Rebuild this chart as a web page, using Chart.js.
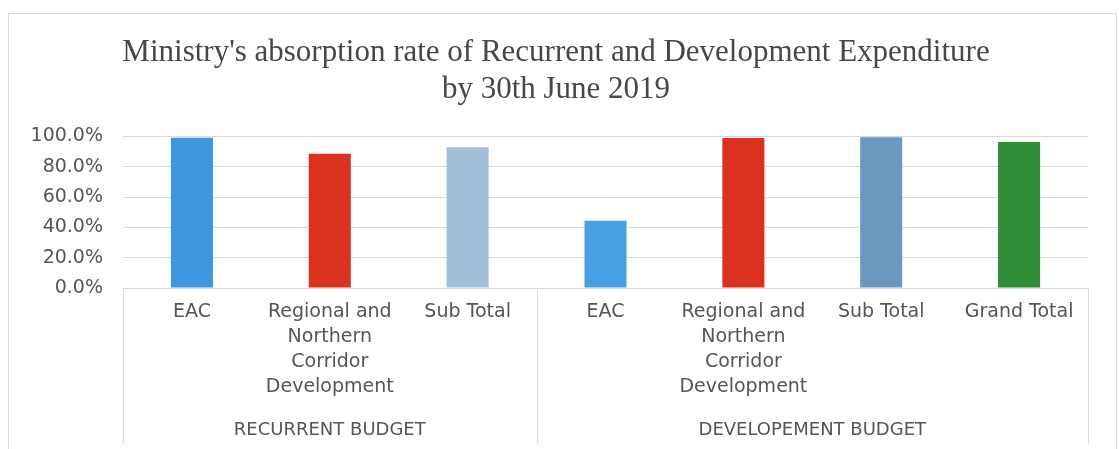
<!DOCTYPE html>
<html>
<head>
<meta charset="utf-8">
<script src="https://cdn.jsdelivr.net/npm/chart.js@4.4.1/dist/chart.umd.min.js"></script>
<style>
  html, body { margin: 0; padding: 0; background: #ffffff; }
  #wrap { width: 1119px; height: 449px; position: relative; }
</style>
</head>
<body>
<div id="wrap"><canvas id="c"></canvas></div>
<script>
// ---- data ----
const titleLines = ["Ministry's absorption rate of Recurrent and Development Expenditure", "by 30th June 2019"];
const categories = [
  ["EAC"],
  ["Regional and", "Northern", "Corridor", "Development"],
  ["Sub Total"],
  ["EAC"],
  ["Regional and", "Northern", "Corridor", "Development"],
  ["Sub Total"],
  ["Grand Total"]
];
const groups = ["RECURRENT BUDGET", "DEVELOPEMENT BUDGET"];
const groupSizes = [3, 4];
const absorptionRate = [0.991, 0.886, 0.928, 0.444, 0.989, 0.994, 0.963];
const yTicks = [0, 0.2, 0.4, 0.6, 0.8, 1.0];

// ---- styles ----
const barColors = ["#3f97dd", "#d9321f", "#a4bfd8", "#469fe0", "#db3220", "#6b98c1", "#2f8c36"];
const tickFont = { family: "'DejaVu Sans', sans-serif", size: 19 };
const groupFont = { family: "'DejaVu Sans', sans-serif", size: 18 };
const textColor = "#555555";

const multiLevel = {
  id: 'multiLevel',
  beforeDraw(chart) {
    const ctx = chart.ctx;
    ctx.save();
    ctx.fillStyle = '#ffffff';
    ctx.fillRect(0, 0, chart.width, chart.height);
    ctx.strokeStyle = '#d9d9d9';
    ctx.lineWidth = 1;
    ctx.strokeRect(8.5, 13.5, 1108, 460);
    ctx.restore();
  },
  afterDraw(chart) {
    const ctx = chart.ctx;
    const xs = chart.scales.x;
    const area = chart.chartArea;
    const bounds = [xs.left];
    let idx = 0;
    groupSizes.forEach((n) => {
      idx += n;
      if (idx < categories.length) {
        bounds.push((xs.getPixelForTick(idx - 1) + xs.getPixelForTick(idx)) / 2);
      } else {
        bounds.push(xs.right);
      }
    });
    ctx.save();
    ctx.strokeStyle = '#d9d9d9';
    ctx.lineWidth = 1;
    bounds.forEach(b => {
      const x = Math.round(b) + 0.5;
      ctx.beginPath();
      ctx.moveTo(x, area.bottom);
      ctx.lineTo(x, chart.height - 5);
      ctx.stroke();
    });
    ctx.fillStyle = textColor;
    ctx.font = `${groupFont.size}px ${groupFont.family}`;
    ctx.textAlign = 'center';
    ctx.textBaseline = 'middle';
    groups.forEach((g, i) => {
      ctx.fillText(g, (bounds[i] + bounds[i + 1]) / 2, 430);
    });
    ctx.restore();
  }
};

new Chart(document.getElementById('c'), {
  type: 'bar',
  data: {
    labels: categories,
    datasets: [{
      data: absorptionRate,
      backgroundColor: barColors,
      borderWidth: 0,
      barPercentage: 0.305,
      categoryPercentage: 1.0,
      clip: false
    }]
  },
  options: {
    responsive: true,
    maintainAspectRatio: false,
    animation: false,
    devicePixelRatio: 1,
    layout: { padding: { left: 24, right: 31, top: 0, bottom: 0 } },
    plugins: {
      legend: { display: false },
      tooltip: { enabled: false },
      title: {
        display: true,
        text: titleLines,
        color: '#474747',
        font: { family: "'Liberation Serif', 'Times New Roman', serif", size: 31, weight: 'normal', lineHeight: 1.2 },
        padding: { top: 34, bottom: 28 }
      }
    },
    scales: {
      x: {
        grid: { display: false, drawTicks: false },
        border: { display: false },
        ticks: { color: textColor, font: { ...tickFont, lineHeight: 25 / 19 }, padding: 12, maxRotation: 0, autoSkip: false },
        afterFit(scale) { scale.height = 161; }
      },
      y: {
        min: 0,
        max: 1,
        afterBuildTicks(scale) { scale.ticks = yTicks.map(v => ({ value: v })); },
        grid: { color: '#d9d9d9', drawTicks: false },
        border: { display: false },
        ticks: {
          color: textColor,
          font: tickFont,
          padding: 20,
          callback: v => (v * 100).toFixed(1) + '%'
        },
        afterFit(scale) { scale.width = 99; }
      }
    }
  },
  plugins: [multiLevel]
});
</script>
</body>
</html>
